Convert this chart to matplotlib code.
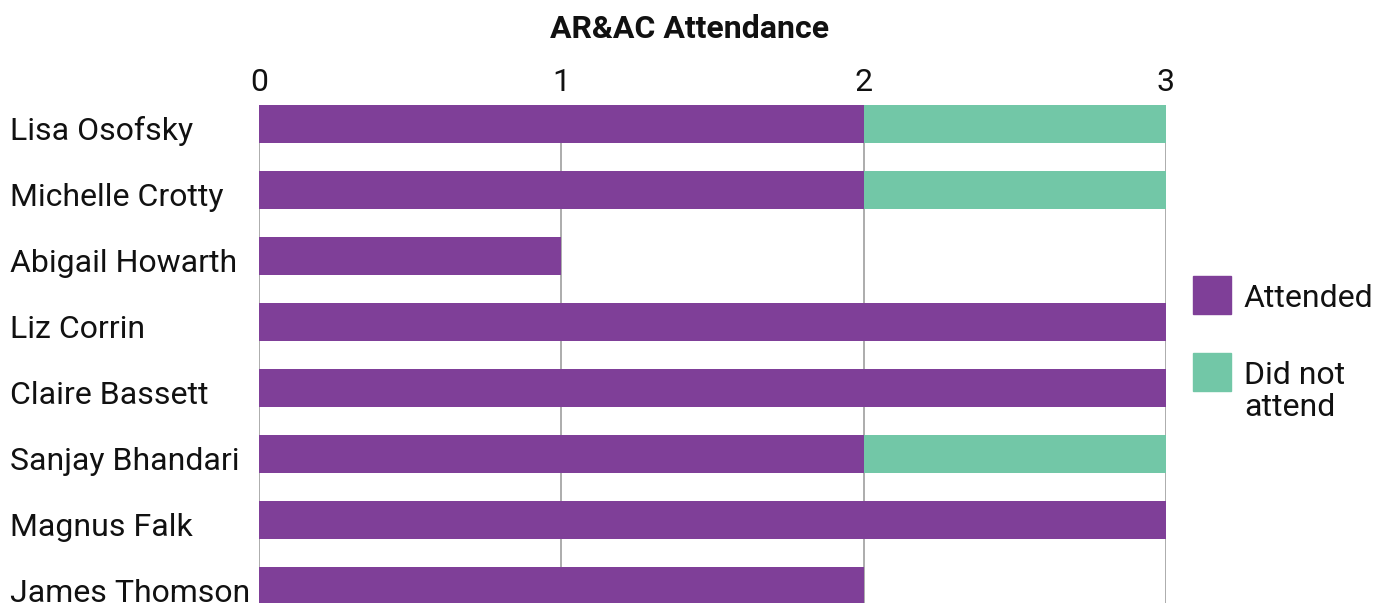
import numpy as np
import matplotlib.pyplot as plt
from matplotlib.patches import Rectangle
from matplotlib.transforms import ScaledTranslation

names = ['Lisa Osofsky', 'Michelle Crotty', 'Abigail Howarth', 'Liz Corrin',
         'Claire Bassett', 'Sanjay Bhandari', 'Magnus Falk', 'James Thomson']
attended = [2, 2, 1, 3, 3, 2, 3, 2]
missed = [1, 1, 0, 0, 0, 1, 0, 0]

purple = '#7F3F98'
green = '#72C7A7'
ink = '#111111'
fs = 23

plt.rcParams['font.family'] = ['Roboto', 'DejaVu Sans']

W, H = 1373, 603
fig = plt.figure(figsize=(W / 100, H / 100), dpi=100)

# axes run off the bottom of the figure, like the cropped original
left, right, top = 259, 1166, 105
row = 66
bh = 38 / row
ylo = -bh / 2
yhi = ylo + 8
bottom = top + 8 * row
ax = fig.add_axes([left / W, 1 - bottom / H, (right - left) / W, (bottom - top) / H])

y = np.arange(len(names))
ax.barh(y, attended, height=bh, color=purple, label='Attended', zorder=3)
ax.barh(y, missed, left=attended, height=bh, color=green, label='Did not attend', zorder=3)

ax.set_xlim(0, 3)
ax.set_ylim(yhi, ylo)
ax.set_xticks([0, 1, 2, 3])
ax.set_yticks(y)
ax.set_yticklabels(names)
ax.xaxis.tick_top()
ax.grid(axis='x', color='#A6A6A6', linewidth=1.3, zorder=0)
ax.set_axisbelow(True)
for s in ax.spines.values():
    s.set_visible(False)
ax.tick_params(axis='x', length=0, pad=6, labelsize=fs, labelcolor=ink)
ax.tick_params(axis='y', length=0, pad=(left - 10) * 0.72, labelsize=fs, labelcolor=ink)
shift = ScaledTranslation(0, -4 / 100, fig.dpi_scale_trans)
for lab in ax.get_yticklabels():
    lab.set_horizontalalignment('left')
    lab.set_transform(lab.get_transform() + shift)

fig.text(0.502, 1 - 29 / H, 'AR&AC Attendance', ha='center', va='center',
         fontsize=fs, fontweight='bold', color=ink)

# legend drawn by hand to match the square swatches
sq = 38
fig.add_artist(Rectangle((1193 / W, 1 - (276 + sq) / H), sq / W, sq / H,
                         transform=fig.transFigure, color=purple))
fig.add_artist(Rectangle((1193 / W, 1 - (353 + sq) / H), sq / W, sq / H,
                         transform=fig.transFigure, color=green))
for (base, txt) in [(307, 'Attended'), (384, 'Did not'), (416, 'attend')]:
    fig.text(1244 / W, 1 - base / H, txt, ha='left', va='baseline',
             fontsize=fs, color=ink)

fig.savefig('out.png', dpi=100)
